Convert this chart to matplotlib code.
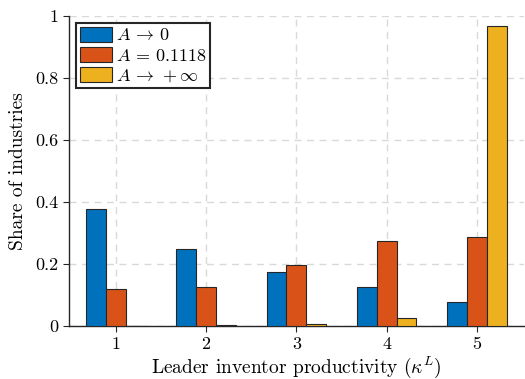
import numpy as np
import matplotlib.pyplot as plt

plt.rcParams['font.family'] = 'serif'
plt.rcParams['font.serif'] = ['cmr10']
plt.rcParams['mathtext.fontset'] = 'cm'
plt.rcParams['axes.formatter.use_mathtext'] = True

# Share of industries per leader productivity level
kappa = [1, 2, 3, 4, 5]
a_zero = [0.376, 0.247, 0.175, 0.124, 0.077]
a_mid = [0.118, 0.127, 0.196, 0.274, 0.287]
a_inf = [0.001, 0.002, 0.006, 0.024, 0.967]
labels = [r'$A\,\rightarrow\,0$', r'$A\,=\,0.1118$', r'$A\,\rightarrow\,+\infty$']
colors = ['#0072BD', '#D95319', '#EDB120']

fig = plt.figure(figsize=(5.25, 3.79), dpi=100)
ax = fig.add_axes([0.131, 0.140, 0.867, 0.818])

x = np.array(kappa)
w = 0.22
for i, (vals, lab, c) in enumerate(zip([a_zero, a_mid, a_inf], labels, colors)):
    ax.bar(x + (i - 1) * w, vals, width=w, color=c, edgecolor='#262626',
           linewidth=0.8, label=lab, zorder=3)

ax.set_xlim(0.48, 5.52)
ax.set_ylim(0, 1)
ax.set_xticks(kappa)
ax.set_xticklabels([str(k) for k in kappa])
ax.set_yticks([0, 0.2, 0.4, 0.6, 0.8, 1])
ax.set_yticklabels(['0', '0.2', '0.4', '0.6', '0.8', '1'])
ax.tick_params(labelsize=13, direction='out', length=4, width=0.8, color='#262626')

ax.grid(True, linestyle=(0, (5, 4)), color='#d9d9d9', linewidth=1, zorder=0)
for s in ['top', 'right']:
    ax.spines[s].set_visible(False)
for s in ['left', 'bottom']:
    ax.spines[s].set_color('#262626')
    ax.spines[s].set_linewidth(1)

ax.set_xlabel(r'Leader inventor productivity ($\kappa^L$)', fontsize=14, labelpad=2)
ax.set_ylabel('Share of industries', fontsize=14, labelpad=6)

leg = ax.legend(loc='upper left', fontsize=13, fancybox=False, framealpha=1,
                edgecolor='#262626', borderpad=0.2, labelspacing=0.2,
                handlelength=1.8, handleheight=0.9, handletextpad=0.2,
                borderaxespad=0.4)
leg.get_frame().set_linewidth(1.5)

fig.savefig('out.png', dpi=100)
